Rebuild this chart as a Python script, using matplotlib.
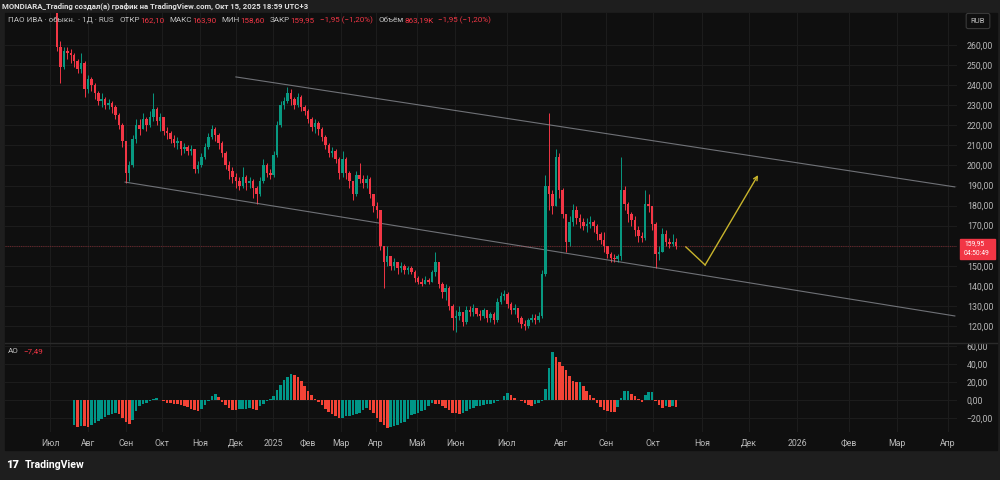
import numpy as np
import matplotlib.pyplot as plt
from matplotlib.patches import Rectangle

plt.rcParams['font.family'] = ['Roboto', 'DejaVu Sans']
NARROW = ['Liberation Sans Narrow', 'Roboto', 'DejaVu Sans']

# one candle = two trading sessions, IVAT daily, Jul 2024 - Oct 2025
first_open = 280.0
last_open = 162.10
closes = [259, 249, 257, 256, 255, 252, 248, 251, 238, 243,
          240, 236, 232, 233, 230, 231, 229, 225, 220, 212,
          196, 200, 213, 220, 218, 223, 220, 224, 228, 222,
          224, 217, 216, 213, 211, 212, 208, 209, 207, 208,
          198, 200, 204, 209, 214, 218, 215, 211, 206, 200,
          197, 194, 192, 190, 194, 191, 192, 189, 186, 192,
          200, 196, 195, 205, 220, 230, 232, 236, 233, 230,
          234, 229, 227, 223, 219, 221, 218, 214, 210, 206,
          207, 203, 196, 203, 196, 192, 186, 195, 193, 191,
          193, 186, 180, 178, 160, 152, 155, 150, 152, 149,
          150, 148, 149, 147, 144, 142, 141, 143, 142, 147,
          152, 141, 137, 139, 130, 124, 125, 127, 122, 128,
          127, 129, 126, 125, 128, 124, 126, 123, 132, 135,
          136, 131, 128, 129, 124, 121, 120, 123, 124, 123,
          125, 146, 190, 186, 180, 204, 188, 176, 162, 172,
          178, 174, 172, 170, 171, 172, 170, 166, 163, 160,
          156, 154, 153.5, 155, 188, 181, 176, 173, 168, 165,
          164, 181, 180, 171, 156, 157, 166, 162, 161, 161.9,
          159.95]
highs = [290, 262, 259, 259, 258, 256, 253, 256, 252, 245,
         244, 241, 237, 236, 234, 233, 232, 230, 226, 221,
         212, 202, 215, 223, 223, 226, 224, 227, 236, 229,
         226, 224, 219, 217, 215, 214, 212, 211, 210, 210,
         208, 202, 206, 211, 216, 220, 219, 216, 212, 207,
         202, 199, 196, 194, 199, 195, 194, 193, 190, 194,
         203, 201, 198, 207, 222, 232, 234, 239, 238, 234,
         236, 235, 230, 228, 224, 223, 222, 219, 215, 211,
         209, 208, 204, 207, 204, 197, 192, 197, 201, 195,
         195, 194, 186, 182, 178, 160, 160, 155, 154, 152,
         152, 151, 150, 150, 148, 145, 144, 145, 144, 148,
         157, 152, 142, 141, 140, 131, 128, 130, 127, 130,
         130, 131, 129, 128, 129, 128, 127, 127, 134, 137,
         138, 137, 132, 131, 129, 125, 123, 124, 126, 126,
         127, 148, 195, 226, 188, 208, 206, 189, 176, 175,
         181, 180, 176, 174, 174, 175, 173, 171, 167, 167,
         160, 157, 156, 156, 204, 190, 182, 177, 175, 170,
         167, 188, 186, 180, 172, 160, 169, 168, 164, 166,
         163.9]
lows = [257, 241, 248, 253, 251, 249, 246, 246, 234, 236,
        237, 233, 230, 229, 228, 228, 226, 223, 218, 209,
        191, 192, 199, 211, 215, 218, 217, 219, 222, 220,
        217, 215, 213, 211, 209, 208, 205, 206, 205, 205,
        196, 196, 199, 203, 208, 213, 212, 208, 204, 198,
        193, 191, 189, 188, 189, 188, 189, 184, 181, 185,
        191, 194, 193, 194, 204, 219, 228, 231, 230, 228,
        229, 227, 225, 221, 217, 216, 215, 212, 208, 204,
        204, 201, 193, 194, 193, 189, 183, 185, 191, 189,
        189, 184, 177, 174, 158, 139, 150, 148, 148, 146,
        147, 146, 146, 146, 142, 141, 140, 141, 141, 142,
        145, 139, 134, 133, 128, 118, 117, 123, 120, 121,
        125, 125, 125, 123, 124, 122, 122, 121, 122, 131,
        133, 129, 126, 126, 122, 119, 118, 119, 122, 121,
        122, 124, 145, 178, 176, 180, 184, 174, 157, 160,
        170, 171, 169, 168, 167, 169, 167, 163, 161, 157,
        154, 152, 152, 152, 153, 178, 172, 170, 165, 162,
        162, 163, 177, 168, 149, 153, 157, 160, 159, 160,
        158.6]

# Awesome Oscillator, first value sits on candle 5
ao_first_bar = 5
ao = [-28, -29.5, -28.5, -29, -29.5, -28, -26, -23.5, -21, -19,
      -17, -15.5, -15, -16, -20, -24, -27, -22, -12, -7,
      -5, -3, -1, 1, 2, 0.5, -1.5, -3, -3.5, -4.5,
      -5, -5.5, -6.5, -8, -9.5, -11, -12.5, -10, -6, -1,
      4, 7, 3, -2, -6, -9, -11, -11.5, -10.5, -10,
      -9.5, -9, -10, -11, -7, -4, -1, 1, 4, 11,
      17, 22, 26, 28.5, 27.5, 25, 21, 16, 10, 5,
      1, -2, -6, -10, -13, -16, -18, -20, -19.5, -18,
      -17.5, -17, -15.5, -14, -11, -9, -11, -14, -20, -25,
      -28, -31, -30, -29, -27.5, -26, -24, -21, -17, -15.5,
      -14, -12.5, -11, -7, -3, -4, -5, -7, -8.5, -11,
      -14, -15, -16, -14.5, -12, -10, -8.5, -7, -6.5, -5.5,
      -5, -4, -3, -1.5, 0.5, 4, 7.5, 5, 2, 0,
      -1.5, -3, -6, -7, -5, -3, -1, 12, 36, 53,
      48, 42, 38, 33, 27, 21, 19.5, 20, 15, 10,
      5, 2, -3, -8, -11, -12.5, -13, -13.5, -8, 2,
      10, 10.5, 7, 4, 1, -2, 5, 8.5, 9, -1,
      -6, -8.5, -7, -8, -7.2, -7.49]

month_labels = ['Июл', 'Авг', 'Сен', 'Окт', 'Ноя', 'Дек', '2025', 'Фев', 'Мар', 'Апр', 'Май',
                'Июн', 'Июл', 'Авг', 'Сен', 'Окт', 'Ноя', 'Дек', '2026', 'Фев', 'Мар', 'Апр']
month_bars = [-2.0, 9.0, 20.1, 30.5, 41.6, 52.0, 62.8, 73.0, 82.6, 92.7, 104.7,
              115.7, 130.8, 146.5, 159.6, 173.3, 187.5, 201.2, 215.1, 230.2, 244.2, 259.0]

price_ticks = np.arange(120, 261, 10)
upper_channel = ([52.0, 261.0], [244.1, 189.3])
lower_channel = ([19.8, 261.0], [191.7, 125.0])
forecast_bars = [182.8, 188.4, 203.8]
forecast_price = [159.4, 150.4, 195.2]
volume_text = '863,19K'
countdown = '04:50:49'

UP, DOWN = '#089981', '#F23645'
GRID = '#1c1c1c'
TXT = '#b8b8b8'

closes = np.array(closes, float)
opens = np.r_[first_open, closes[:-1]]
opens[-1] = last_open
highs = np.maximum(np.array(highs, float), np.maximum(opens, closes))
lows = np.minimum(np.array(lows, float), np.minimum(opens, closes))
x = np.arange(len(closes))
cols = np.where(closes >= opens, UP, DOWN)


def fmt(v):
    return f'{v:.2f}'.replace('.', ',').replace('-', '−')


fig = plt.figure(figsize=(10, 4.8), dpi=100, facecolor='#1e1e1e')
fig.patches.append(Rectangle((5 / 1000, 1 - 450 / 480), 992 / 1000, 437 / 480,
                             transform=fig.transFigure, color='#0f0f0f', zorder=-5))

ax = fig.add_axes([0.005, 1 - 343 / 480, 0.952, 330 / 480])
ax2 = fig.add_axes([0.005, 1 - 432 / 480, 0.952, 89 / 480], sharex=ax)

for a in (ax, ax2):
    a.set_facecolor('#0f0f0f')
    for s in a.spines.values():
        s.set_visible(False)
    a.yaxis.tick_right()
    a.tick_params(length=0, labelsize=6.3, labelcolor=TXT, pad=7)
    a.set_xticks(month_bars)
    a.grid(True, color=GRID, lw=0.8)
    a.set_axisbelow(True)

# candles
ax.vlines(x, lows, highs, colors=cols, lw=0.7, zorder=2)
body = np.maximum(np.abs(closes - opens), 0.35)
ax.bar(x, body, bottom=np.minimum(opens, closes), width=0.72, color=cols, linewidth=0, zorder=3)

ax.plot(*upper_channel, color='#8f9299', lw=0.8, alpha=0.75)
ax.plot(*lower_channel, color='#8f9299', lw=0.8, alpha=0.75)
ax.plot(forecast_bars[:2], forecast_price[:2], color='#c8b42c', lw=1)
ax.annotate('', xy=(forecast_bars[2], forecast_price[2]), xytext=(forecast_bars[1], forecast_price[1]),
            arrowprops=dict(arrowstyle='->', color='#c8b42c', lw=1, shrinkA=0, shrinkB=0,
                            mutation_scale=7))
ax.axhline(closes[-1], color=DOWN, lw=0.8, alpha=0.35, ls=(0, (1, 1)))

ax.set_xlim((5 - 57) / 3.44, (957 - 57) / 3.44)
ax.set_ylim(111.53, 275.95)
ax.set_yticks(price_ticks)
# the 160 label sits under the last-price badge, so it is left empty
ax.set_yticklabels(['' if abs(v - closes[-1]) < 5 else fmt(v) for v in price_ticks])
ax.tick_params(axis='x', labelbottom=False)

# AO histogram
ao = np.array(ao, float)
ao_x = np.arange(ao_first_bar, ao_first_bar + len(ao))
ao_prev = np.r_[ao[0], ao[:-1]]
ao_cols = np.where(ao >= ao_prev, '#009688', '#F44336')
ax2.bar(ao_x, ao, width=0.75, color=ao_cols, linewidth=0, zorder=3)
ax2.set_ylim(-35.6, 63.3)
ax2.set_yticks([-20, 0, 20, 40, 60])
ax2.set_yticklabels([fmt(v) for v in [-20, 0, 20, 40, 60]])
ax2.set_xticklabels(month_labels)
ax2.tick_params(axis='x', pad=5)


def ftext(px, py, s, **kw):
    kw.setdefault('va', 'center')
    kw.setdefault('fontsize', 6)
    return fig.text(px / 1000, 1 - py / 480, s, **kw)


renderer = fig.canvas.get_renderer()


def text_row(px, py, parts, size):
    # lay pieces out left to right so they never collide
    for s, c, gap in parts:
        t = ftext(px, py, s, color=c, fontsize=size, family=NARROW)
        px += t.get_window_extent(renderer).width + gap


# separator between panes
fig.add_artist(plt.Line2D([5 / 1000, 997 / 1000], [1 - 343 / 480] * 2, color='#2a2a2a', lw=1))

ftext(2, 6, 'MONDIARA_Trading создал(а) график на TradingView.com, Окт 15, 2025 18:59 UTC+3',
      color='#e0e0e0', fontsize=5.6, family=NARROW, weight='bold')

G, R = '#c0c0c0', '#F23645'
chg = closes[-1] - closes[-2]
pct = chg / closes[-2] * 100
chg_txt = f'{fmt(chg)} ({fmt(pct)}%)'
legend = [('ПАО ИВА · обыкн.', G, 3), ('· 1Д · RUS', G, 6),
          ('ОТКР', G, 0.5), (fmt(opens[-1]), R, 5),
          ('МАКС', G, 0.5), (fmt(highs[-1]), R, 5),
          ('МИН', G, 0.5), (fmt(lows[-1]), R, 5),
          ('ЗАКР', G, 0.5), (fmt(closes[-1]), R, 5),
          (chg_txt, R, 6), ('Объём', G, 0.5), (volume_text, R, 5), (chg_txt, R, 0)]
text_row(8, 20, legend, 5.8)
text_row(8, 351, [('AO', G, 5), (fmt(ao[-1]), R, 0)], 5.8)

# RUB box and last price label
ftext(978, 21, 'RUB', color='#c0c0c0', fontsize=5.5, ha='center',
      bbox=dict(boxstyle='round,pad=0.6,rounding_size=0.25', fc='#0f0f0f', ec='#3a3a3a', lw=0.8))
fig.patches.append(Rectangle((960 / 1000, 1 - 258.5 / 480), 35 / 1000, 20 / 480,
                             transform=fig.transFigure, color=R, zorder=5))
ftext(964, 243.6, fmt(closes[-1]), color='white', fontsize=4.9, zorder=6)
ftext(964, 253.6, countdown, color='white', fontsize=4.9, zorder=6)

# TradingView logo
ftext(6, 465, '17', color='white', fontsize=8, weight='heavy')
ftext(25, 465, 'TradingView', color='white', fontsize=7.6, weight='bold')

fig.savefig('out.png', dpi=100, facecolor=fig.get_facecolor())
